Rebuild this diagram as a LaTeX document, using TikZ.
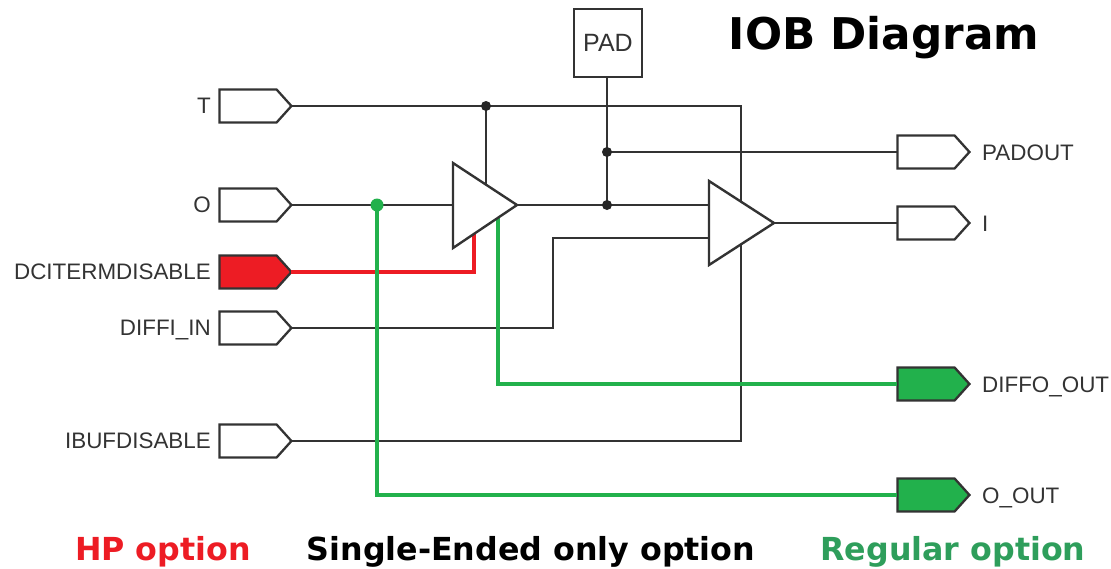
\documentclass[tikz,border=0pt]{standalone}
\usepackage{fontspec}
\setmainfont{Liberation Sans}
\newfontfamily\headfont{DejaVu Sans}
\usetikzlibrary{calc,shapes.symbols}
\definecolor{wirecol}{HTML}{333333}
\definecolor{hpred}{HTML}{ED1C24}
\definecolor{reggreen}{HTML}{22B14C}
\definecolor{regtext}{HTML}{2E9E5B}
\tikzset{
  wire/.style={draw=wirecol,line width=2pt},
  hpwire/.style={draw=hpred,line width=4pt},
  regwire/.style={draw=reggreen,line width=4pt},
  iopin/.style={shape=signal,signal to=east,signal pointer angle=96,draw=wirecol,fill=white,
    line width=2.3pt,minimum width=72pt,minimum height=33pt,inner sep=0pt,outer sep=0pt},
  pinname/.style={text=wirecol,font=\fontsize{22.4}{24}\selectfont,inner sep=0pt},
  buffer/.style={draw=wirecol,fill=white,line width=2.4pt,line join=miter},
  heading/.style={font=\headfont\bfseries\fontsize{31.7}{34}\selectfont,inner sep=0pt},
  junction/.style={circle,fill=#1,minimum size=10pt,inner sep=0pt}
}
\begin{document}
\begin{tikzpicture}[x=1pt,y=-1pt]
  \useasboundingbox (0,0) rectangle (1111,568);
  % left pins
  \node[iopin] (T) at (248,106) {};
  \node[iopin] (O) at (248,205) {};
  \node[iopin,fill=hpred] (DCI) at (248,272) {};
  \node[iopin] (DIFFI) at (248,328) {};
  \node[iopin] (IBUF) at (248,441) {};
  \node[pinname,anchor=east] at (211,106) {T};
  \node[pinname,anchor=east] at (211,205) {O};
  \node[pinname,anchor=east] at (211,272) {DCITERMDISABLE};
  \node[pinname,anchor=east] at (211,330) {DIFFI\_IN};
  \node[pinname,anchor=east] at (211,441) {IBUFDISABLE};
  % right pins
  \node[iopin] (PADOUT) at (926,152) {};
  \node[iopin] (I) at (926,223) {};
  \node[iopin,fill=reggreen] (DIFFO) at (926,384) {};
  \node[iopin,fill=reggreen] (OOUT) at (926,495) {};
  \node[pinname,anchor=west] at (982,153) {PADOUT};
  \node[pinname,anchor=west] at (982,224) {I};
  \node[pinname,anchor=west] at (982,387) {DIFFO\_OUT};
  \node[pinname,anchor=west] at (982,498) {O\_OUT};
  % pad
  \node[draw=wirecol,line width=2pt,minimum size=68pt,inner sep=0pt,pinname,font=\fontsize{25}{27}\selectfont] (PAD) at (608,43) {PAD};
  % junctions and buffers
  \coordinate (tjoin) at (486,106);
  \coordinate (padjoin) at (607,152);
  \coordinate (bufjoin) at (607,205);
  \coordinate (ojoin) at (377,205);
  \coordinate (ina) at (453,205);
  \coordinate (tipa) at (517,205);
  \coordinate (inb) at (709,205);
  \coordinate (inc) at (709,238);
  \coordinate (tipb) at (774,223);
  % black wires
  \draw[wire] (T.east) -- (741,106) -- (741,441) -- (IBUF.east);
  \draw[wire] (tjoin) -- (486,190);
  \draw[wire] (O.east) -- (ina);
  \draw[wire] (tipa) -- (inb);
  \draw[wire] (PAD.south -| bufjoin) -- (bufjoin);
  \draw[wire] (padjoin) -- (PADOUT.west);
  \draw[wire] (DIFFI.east) -- (553,328) -- (553,238) -- (inc);
  \draw[wire] (tipb) -- (I.west);
  % coloured wires
  \draw[hpwire] (DCI.east) -- (474,272) -- (474,232);
  \draw[regwire] (498,216) -- (498,384) -- (DIFFO.west);
  \draw[regwire] (ojoin) -- (377,495) -- (OOUT.west);
  % buffers
  \draw[buffer] (453,163) -- (tipa) -- (453,248) -- cycle;
  \draw[buffer] (709,181) -- (tipb) -- (709,265) -- cycle;
  % dots
  \node[junction=black!85] (dota) at (tjoin) {};
  \node[junction=black!85] (dotb) at (padjoin) {};
  \node[junction=black!85] (dotc) at (bufjoin) {};
  \node[junction=reggreen,minimum size=13pt] (dotd) at (ojoin) {};
  % headings
  \node[heading,font=\headfont\bfseries\fontsize{43.7}{46}\selectfont] at (884,38) {IOB Diagram};
  \node[heading,text=hpred] at (163,552) {HP option};
  \node[heading] at (531,552) {Single-Ended only option};
  \node[heading,text=regtext] at (953,552) {Regular option};
\end{tikzpicture}
\end{document}
